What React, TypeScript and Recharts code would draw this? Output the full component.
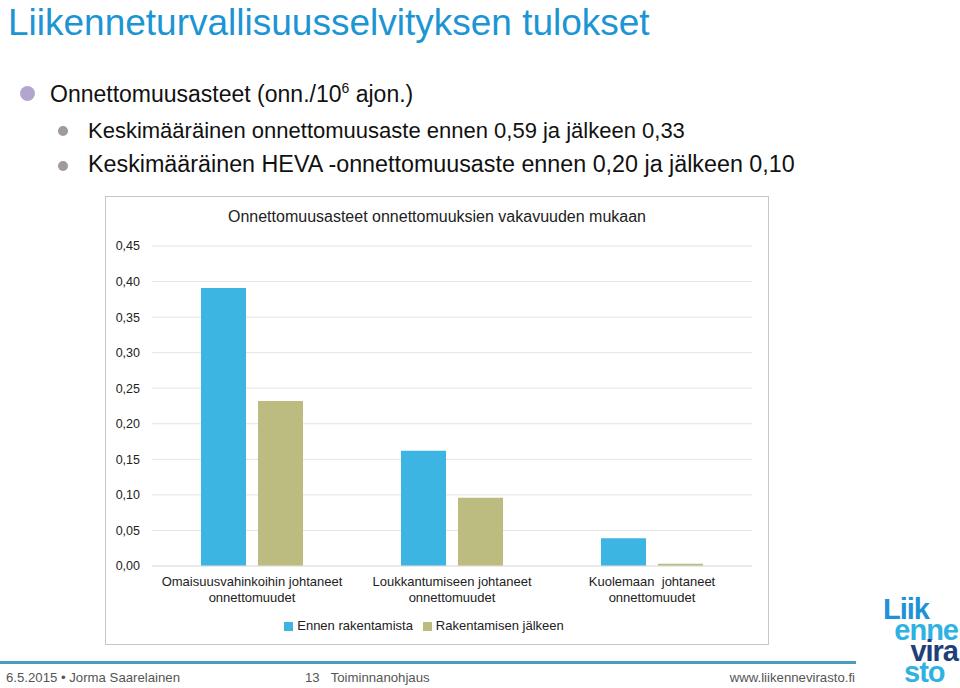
import React from 'react'
import { BarChart, Bar, XAxis, YAxis, CartesianGrid, Legend } from 'recharts'

const CATEGORIES = [
  'Omaisuusvahinkoihin johtaneet\nonnettomuudet',
  'Loukkantumiseen johtaneet\nonnettomuudet',
  'Kuolemaan  johtaneet\nonnettomuudet',
]
const BEFORE = [0.391, 0.162, 0.039]
const AFTER = [0.232, 0.096, 0.003]
const Y_TICKS = [0, 0.05, 0.1, 0.15, 0.2, 0.25, 0.3, 0.35, 0.4, 0.45]

const data = CATEGORIES.map((c, i) => ({ cat: c, before: BEFORE[i], after: AFTER[i] }))

const FONT = '"Liberation Sans", Arial, Helvetica, sans-serif'
const BLUE = '#3db5e3'
const OLIVE = '#bcbc80'

function CatTick({ x, y, payload }: { x?: number; y?: number; payload?: { value: string } }) {
  const lines = (payload?.value ?? '').split('\n')
  return (
    <text x={x} y={y} textAnchor="middle" fill="#222" fontSize={13} fontFamily={FONT} style={{ whiteSpace: 'pre' }}>
      {lines.map((l, i) => (
        <tspan key={i} x={x} dy={i === 0 ? 12 : 16}>{l}</tspan>
      ))}
    </text>
  )
}

const logoLine = { position: 'absolute' as const, fontSize: 29, fontWeight: 'bold' as const, lineHeight: '21px', height: 21, letterSpacing: -1, whiteSpace: 'nowrap' as const }

export default function App() {
  return (
    <div style={{ position: 'absolute', left: 0, top: 0, width: 960, height: 688, background: '#fff', fontFamily: FONT, overflow: 'hidden' }}>
      <div style={{ position: 'absolute', left: 8, top: 2, fontSize: 37, lineHeight: '42px', color: '#1b95d4', whiteSpace: 'nowrap' }}>
        Liikenneturvallisuusselvityksen tulokset
      </div>

      <div style={{ position: 'absolute', left: 20, top: 86, width: 15, height: 15, borderRadius: '50%', background: '#b4a5cf' }} />
      <div style={{ position: 'absolute', left: 50, top: 80, fontSize: 23, color: '#111', whiteSpace: 'nowrap' }}>
        Onnettomuusasteet (onn./10<sup style={{ fontSize: 14 }}>6</sup> ajon.)
      </div>
      <div style={{ position: 'absolute', left: 58, top: 126, width: 10, height: 10, borderRadius: '50%', background: '#a09a98' }} />
      <div style={{ position: 'absolute', left: 88, top: 118, fontSize: 22, color: '#111', whiteSpace: 'nowrap' }}>
        Keskimääräinen onnettomuusaste ennen 0,59 ja jälkeen 0,33
      </div>
      <div style={{ position: 'absolute', left: 58, top: 161, width: 10, height: 10, borderRadius: '50%', background: '#a09a98' }} />
      <div style={{ position: 'absolute', left: 88, top: 151, fontSize: 23.3, color: '#111', whiteSpace: 'nowrap' }}>
        Keskimääräinen HEVA -onnettomuusaste ennen 0,20 ja jälkeen 0,10
      </div>

      <div style={{ position: 'absolute', left: 105, top: 196, width: 662, height: 447, border: '1px solid #c6c6c6', background: '#fff' }}>
        <div style={{ position: 'absolute', left: 0, width: 662, top: 11, textAlign: 'center', fontSize: 16, color: '#222' }}>
          Onnettomuusasteet onnettomuuksien vakavuuden mukaan
        </div>
        <BarChart
          width={662}
          height={447}
          data={data}
          margin={{ top: 49, right: 16, bottom: 8, left: 0 }}
          barGap={12}
          barCategoryGap={49}
          style={{ position: 'absolute', left: 0, top: 0 }}
        >
          <CartesianGrid vertical={false} stroke="#e3e3e3" />
          <XAxis dataKey="cat" tick={<CatTick />} tickLine={false} axisLine={{ stroke: '#e3e3e3' }} height={50} interval={0} />
          <YAxis
            domain={[0, 0.45]}
            ticks={Y_TICKS}
            width={46}
            tickLine={false}
            axisLine={false}
            tickSize={0}
            tickMargin={12}
            tick={{ fill: '#222', fontSize: 12.5, fontFamily: FONT }}
            tickFormatter={(v: number) => v.toFixed(2).replace('.', ',')}
          />
          <Legend
            verticalAlign="bottom"
            iconType="square"
            iconSize={9}
            wrapperStyle={{ fontSize: 13, fontFamily: FONT, lineHeight: '20px', height: 20 }}
            formatter={(v: string) => <span style={{ color: '#222' }}>{v}</span>}
          />
          <Bar dataKey="before" name="Ennen rakentamista" fill={BLUE} isAnimationActive={false} />
          <Bar dataKey="after" name="Rakentamisen jälkeen" fill={OLIVE} isAnimationActive={false} />
        </BarChart>
      </div>

      <div style={{ position: 'absolute', left: 0, top: 661, width: 856, height: 3, background: '#4b9bc1' }} />
      <div style={{ position: 'absolute', left: 6, top: 670, fontSize: 13.2, color: '#555', whiteSpace: 'nowrap' }}>
        6.5.2015 • Jorma Saarelainen
      </div>
      <div style={{ position: 'absolute', left: 305, top: 670, fontSize: 13.2, color: '#555', whiteSpace: 'nowrap' }}>
        13&nbsp;&nbsp;&nbsp;Toiminnanohjaus
      </div>
      <div style={{ position: 'absolute', right: 105, top: 670, fontSize: 13.2, color: '#555', whiteSpace: 'nowrap' }}>
        www.liikennevirasto.fi
      </div>

      <div style={{ ...logoLine, left: 883, top: 599, color: '#1f92d5' }}>Liik</div>
      <div style={{ ...logoLine, right: 2, top: 620, color: '#2fb2e2' }}>enne</div>
      <div style={{ ...logoLine, right: 2, top: 641, color: '#1d3f7a' }}>vira</div>
      <div style={{ ...logoLine, left: 904, top: 662, color: '#2fb2e2' }}>sto</div>
    </div>
  )
}
